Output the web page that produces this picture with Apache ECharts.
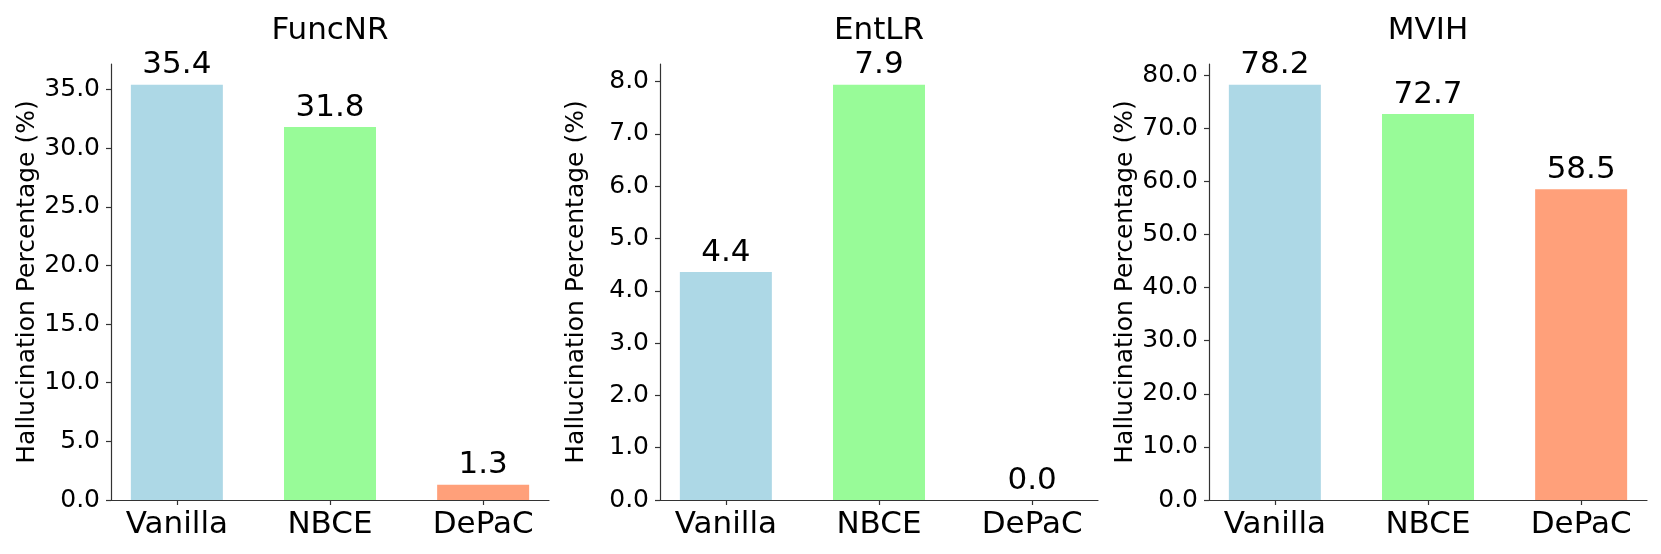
<!DOCTYPE html>
<html>
<head>
<meta charset="utf-8">
<script src="https://cdn.jsdelivr.net/npm/echarts@6/dist/echarts.min.js"></script>
<style>
  html, body { margin: 0; padding: 0; background: #fff; }
  #main { width: 1661px; height: 554px; }
</style>
</head>
<body>
<div id="main"></div>
<script>
// data
var categories = ['Vanilla', 'NBCE', 'DePaC'];
var panelTitles = ['FuncNR', 'EntLR', 'MVIH'];
var funcnrValues = [35.4, 31.8, 1.3];
var entlrValues = [4.36, 7.94, 0.0];
var mvihValues = [78.2, 72.7, 58.5];
var funcnrTicks = [0, 5, 10, 15, 20, 25, 30, 35];
var entlrTicks = [0, 1, 2, 3, 4, 5, 6, 7, 8];
var mvihTicks = [0, 10, 20, 30, 40, 50, 60, 70, 80];
var barColors = ['#ADD8E6', '#98FB98', '#FFA07A'];

var allValues = [funcnrValues, entlrValues, mvihValues];
var allTicks = [funcnrTicks, entlrTicks, mvihTicks];

var font = 'DejaVu Sans';
var panelLeft = [111, 660, 1209];
var panelWidth = 438;

var myChart = echarts.init(document.getElementById('main'));

var grid = [], xAxis = [], yAxis = [], series = [], title = [];
allValues.forEach(function (vals, i) {
  grid.push({ left: panelLeft[i], top: 64, width: panelWidth, height: 436 });
  title.push({
    text: panelTitles[i],
    left: panelLeft[i] + panelWidth / 2,
    top: 15,
    textAlign: 'center',
    padding: 0,
    textStyle: { fontFamily: font, fontSize: 31, fontWeight: 'normal', color: '#000' }
  });
  xAxis.push({
    type: 'value',
    gridIndex: i,
    min: -0.43,
    max: 2.43,
    splitLine: { show: false },
    axisLine: { show: true, onZero: false, lineStyle: { color: '#333', width: 1.2 } },
    axisTick: { show: true, length: 5, customValues: [0, 1, 2], lineStyle: { color: '#333', width: 1.2 } },
    axisLabel: {
      customValues: [0, 1, 2],
      margin: 9,
      fontFamily: font,
      fontSize: 31,
      color: '#000',
      formatter: function (v) { return categories[Math.round(v)]; }
    }
  });
  yAxis.push({
    type: 'value',
    gridIndex: i,
    min: 0,
    max: Math.max.apply(null, vals) * 1.05,
    name: 'Hallucination Percentage (%)',
    nameLocation: 'middle',
    nameGap: 71,
    nameTextStyle: { fontFamily: font, fontSize: 25, color: '#000' },
    splitLine: { show: false },
    axisLine: { show: true, onZero: false, lineStyle: { color: '#333', width: 1.2 } },
    axisTick: { show: true, length: 5, customValues: allTicks[i], lineStyle: { color: '#333', width: 1.2 } },
    axisLabel: {
      customValues: allTicks[i],
      margin: 11,
      fontFamily: font,
      fontSize: 25,
      color: '#000',
      formatter: function (v) { return v.toFixed(1); }
    }
  });
  series.push({
    type: 'bar',
    xAxisIndex: i,
    yAxisIndex: i,
    barWidth: 92,
    data: vals.map(function (v, j) {
      return { value: [j, v], itemStyle: { color: barColors[j] } };
    }),
    label: {
      show: true,
      position: 'top',
      distance: 4,
      fontFamily: font,
      fontSize: 31,
      color: '#000',
      formatter: function (p) { return p.value[1].toFixed(1); }
    }
  });
});

var option = {
  animation: false,
  backgroundColor: '#fff',
  title: title,
  grid: grid,
  xAxis: xAxis,
  yAxis: yAxis,
  series: series
};

myChart.setOption(option);
</script>
</body>
</html>
